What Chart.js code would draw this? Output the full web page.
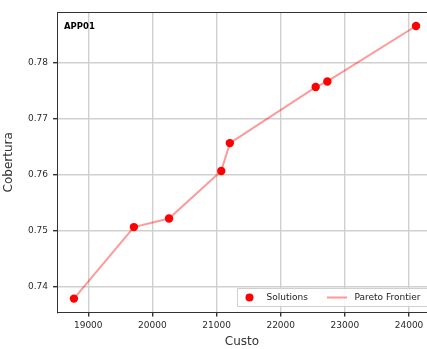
<!DOCTYPE html>
<html>
<head>
<meta charset="utf-8">
<script src="https://cdn.jsdelivr.net/npm/chart.js@4/dist/chart.umd.min.js"></script>
<style>
html,body{margin:0;padding:0;background:#fff;overflow:hidden;}
#wrap{width:427px;height:349px;position:relative;}
</style>
</head>
<body>
<div id="wrap"><canvas id="c" width="427" height="349"></canvas></div>
<script>
const costs = [18777, 19712, 20259, 21073, 21207, 22545, 22727, 24109];
const coverage = [0.7379, 0.75066, 0.75219, 0.76066, 0.76565, 0.77565, 0.77665, 0.78654];
const xTicks = [19000, 20000, 21000, 22000, 23000, 24000];
const yTicks = [0.74, 0.75, 0.76, 0.77, 0.78];
const seriesNames = ['Solutions', 'Pareto Frontier'];
const panelLabel = 'APP01';
const xTitle = 'Custo';
const yTitle = 'Cobertura';

const pts = costs.map((c, i) => ({x: c, y: coverage[i]}));
const FONT = 'DejaVu Sans';
const LINE_COLOR = 'rgba(255,0,0,0.4)';

const extras = {
  id: 'extras',
  afterDraw(chart) {
    const ctx = chart.ctx;
    const a = chart.chartArea;
    ctx.save();
    ctx.strokeStyle = '#333';
    ctx.lineWidth = 1;
    ctx.beginPath();
    ctx.moveTo(a.left, a.top + 0.5);
    ctx.lineTo(a.right, a.top + 0.5);
    ctx.stroke();
    ctx.fillStyle = '#000';
    ctx.font = 'bold 8.5px ' + FONT;
    ctx.textBaseline = 'alphabetic';
    ctx.textAlign = 'left';
    ctx.fillText(panelLabel, a.left + 7, a.top + 17);
    const bx = 237, by = 288, bw = 200, bh = 18;
    ctx.fillStyle = 'rgba(255,255,255,0.85)';
    ctx.strokeStyle = '#d0d0d0';
    ctx.lineWidth = 1;
    ctx.beginPath();
    ctx.rect(bx + 0.5, by + 0.5, bw, bh);
    ctx.fill();
    ctx.stroke();
    const cy = by + bh / 2 + 0.5;
    ctx.fillStyle = 'red';
    ctx.beginPath();
    ctx.arc(249.5, cy, 4, 0, Math.PI * 2);
    ctx.fill();
    ctx.fillStyle = '#222';
    ctx.font = '9px ' + FONT;
    ctx.textBaseline = 'middle';
    ctx.fillText(seriesNames[0], 266.5, cy);
    ctx.strokeStyle = LINE_COLOR;
    ctx.lineWidth = 2;
    ctx.beginPath();
    ctx.moveTo(327, cy);
    ctx.lineTo(347, cy);
    ctx.stroke();
    ctx.fillText(seriesNames[1], 354.5, cy);
    ctx.restore();
  }
};

new Chart(document.getElementById('c'), {
  type: 'scatter',
  data: {
    datasets: [
      {
        label: seriesNames[0],
        data: pts,
        backgroundColor: 'red',
        borderColor: 'red',
        borderWidth: 0,
        pointRadius: 4.2,
        pointHoverRadius: 4.2,
        showLine: false
      },
      {
        label: seriesNames[1],
        data: pts,
        borderColor: LINE_COLOR,
        backgroundColor: LINE_COLOR,
        borderWidth: 2,
        pointRadius: 0,
        showLine: true,
        tension: 0
      }
    ]
  },
  options: {
    responsive: false,
    animation: false,
    events: [],
    layout: {autoPadding: false, padding: {top: 12, right: 0, left: 0, bottom: 0}},
    plugins: {legend: {display: false}, tooltip: {enabled: false}},
    scales: {
      x: {
        type: 'linear',
        min: 18513,
        max: 24280,
        afterFit(s) { s.height = 36.5; s.paddingRight = 0; s.paddingLeft = 0; },
        afterBuildTicks(s) { s.ticks = xTicks.map(v => ({value: v})); },
        ticks: {
          color: '#2a2a2a',
          font: {family: FONT, size: 9},
          padding: 4,
          maxRotation: 0,
          autoSkip: false,
          callback: v => String(v)
        },
        grid: {color: '#d0d0d0', lineWidth: 1.4, tickLength: 4, tickColor: '#333', drawTicks: true},
        border: {color: '#333', width: 1},
        title: {display: true, text: xTitle, color: '#333', font: {family: FONT, size: 12}, padding: {top: 0, bottom: 0}}
      },
      y: {
        type: 'linear',
        min: 0.73542,
        max: 0.78904,
        afterFit(s) { s.width = 57; s.paddingTop = 0; s.paddingBottom = 0; },
        afterBuildTicks(s) { s.ticks = yTicks.map(v => ({value: v})); },
        ticks: {
          color: '#2a2a2a',
          font: {family: FONT, size: 9},
          padding: 5,
          autoSkip: false,
          callback: v => v.toFixed(2)
        },
        grid: {color: '#d0d0d0', lineWidth: 1.4, tickLength: 4, tickColor: '#333', drawTicks: true},
        border: {color: '#333', width: 1},
        title: {display: true, text: yTitle, color: '#333', font: {family: FONT, size: 12}, padding: {top: 2, bottom: 0}}
      }
    }
  },
  plugins: [extras]
});
</script>
</body>
</html>
